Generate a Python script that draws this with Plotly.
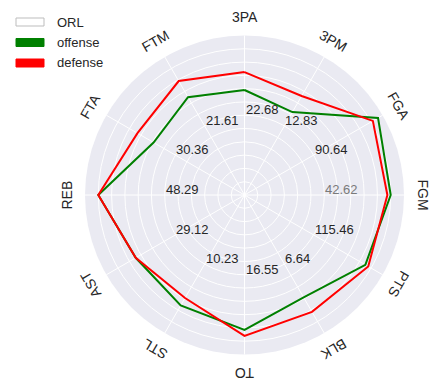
import math
import plotly.graph_objects as go

categories = ["3PA", "3PM", "FGA", "FGM", "PTS", "BLK", "TO", "STL", "AST", "REB", "FTA", "FTM"]
offense = [7.9, 7.2, 11.6, 11.0, 10.5, 8.9, 10.15, 9.6, 9.45, 11.0, 7.9, 8.5]
defense = [9.25, 8.6, 11.15, 10.75, 10.75, 10.15, 10.6, 8.95, 9.45, 11.0, 9.3, 9.9]
scale_labels = ["22.68", "12.83", "90.64", "42.62", "115.46", "6.64", "16.55", "10.23", "29.12", "48.29", "30.36", "21.61"]
legend_names = ["ORL", "offense", "defense"]
legend_fill = ["white", "green", "red"]
legend_edge = ["#bdbdbd", "green", "red"]

W, H = 437, 388
CX, CY = 244.5, 195.0      # centre in pixels (from top)
R = 159.5                  # outer radius in pixels
RMAX = 12.0
TXT = "#262626"
FONT = "Liberation Sans, Arial, sans-serif"

fig = go.Figure()

theta_closed = categories + [categories[0]]
fig.add_trace(go.Scatterpolar(r=offense + [offense[0]], theta=theta_closed, mode="lines",
                              name=legend_names[1], line=dict(color="green", width=2), showlegend=False))
fig.add_trace(go.Scatterpolar(r=defense + [defense[0]], theta=theta_closed, mode="lines",
                              name=legend_names[2], line=dict(color="red", width=2), showlegend=False))

annotations = []
shapes = []
n = len(categories)
for i, cat in enumerate(categories):
    th = 90 - 360.0 * i / n
    c, s = math.cos(math.radians(th)), math.sin(math.radians(th))
    rl = 178.0
    px, py = CX + rl * c, CY - rl * s
    annotations.append(dict(x=px / W, y=1 - py / H, xref="paper", yref="paper", text=cat,
                            showarrow=False, textangle=90 - th, xanchor="center", yanchor="middle",
                            font=dict(family=FONT, size=14, color=TXT)))
    rs = 6.0 / RMAX * R
    px, py = CX + rs * c, CY - rs * s
    col = "#7a7a7a" if cat == "FGM" else TXT
    annotations.append(dict(x=px / W, y=1 - py / H, xref="paper", yref="paper", text=scale_labels[i],
                            showarrow=False, xanchor="left", yanchor="bottom", yshift=-3, borderpad=0,
                            font=dict(family=FONT, size=13, color=col)))

# legend drawn as patches + text
for k, name in enumerate(legend_names):
    yc = 22 + 20.5 * k
    shapes.append(dict(type="rect", xref="paper", yref="paper",
                       x0=16 / W, x1=44 / W, y0=1 - (yc - 4) / H, y1=1 - (yc + 4) / H,
                       fillcolor=legend_fill[k], line=dict(color=legend_edge[k], width=1)))
    annotations.append(dict(x=55 / W, y=1 - yc / H, xref="paper", yref="paper", text=name,
                            showarrow=False, xanchor="left", yanchor="middle",
                            font=dict(family=FONT, size=13, color=TXT)))

fig.update_layout(
    width=W, height=H,
    margin=dict(l=0, r=0, t=0, b=0),
    paper_bgcolor="white",
    font=dict(family=FONT, color=TXT),
    polar=dict(
        domain=dict(x=[(CX - R) / W, (CX + R) / W], y=[1 - (CY + R) / H, 1 - (CY - R) / H]),
        bgcolor="#EAEAF2",
        angularaxis=dict(type="category", direction="clockwise", rotation=90, categoryorder="array",
                         categoryarray=categories, showticklabels=False, ticks="",
                         showline=False, gridcolor="white", gridwidth=1),
        radialaxis=dict(range=[0, RMAX], dtick=1, showticklabels=False, ticks="",
                        showline=False, gridcolor="white", gridwidth=1),
    ),
    annotations=annotations,
    shapes=shapes,
    showlegend=False,
)

fig.write_html("out.html", config={"displayModeBar": False},
               post_script="document.body.style.margin='0px';")
